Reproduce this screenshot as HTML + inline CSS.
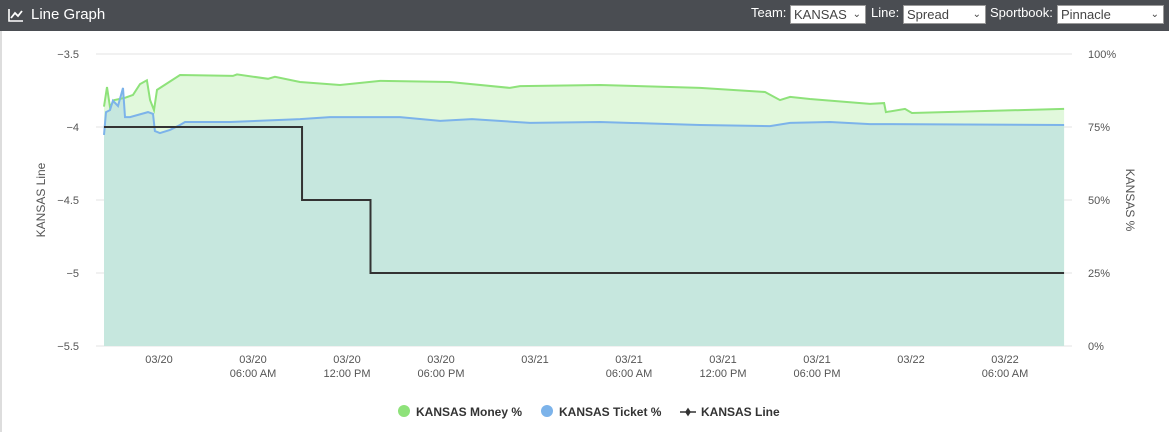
<!DOCTYPE html>
<html><head><meta charset="utf-8"><style>
body{margin:0;width:1169px;height:432px;background:#fff;font-family:"Liberation Sans",sans-serif;overflow:hidden}
#hdr{position:absolute;left:0;top:0;width:1169px;height:31px;background:#4a4d52;color:#fff}
#hdr .t{position:absolute;left:31px;top:6px;font-size:15px}
.ctl{position:absolute;top:5px;font-size:13px;color:#fff}
.sel{position:absolute;top:5px;height:17px;background:#fff;border:1px solid #999;color:#444;font-size:13px;line-height:17px;padding-left:3px;box-sizing:border-box;height:19px}
.sel span{position:absolute;right:4px;top:0;font-size:10px}
</style></head><body>
<div id="hdr">
<svg style="position:absolute;left:8px;top:8px" width="16" height="14"><path d="M1 1V13H15" stroke="#fff" stroke-width="1.6" fill="none"/><path d="M3 10L7 5L10 8L14 3" stroke="#fff" stroke-width="1.8" fill="none"/></svg>
<div class="t">Line Graph</div>
<div class="ctl" style="left:751px">Team:</div>
<div class="sel" style="left:790px;width:76px">KANSAS<span>&#8964;</span></div>
<div class="ctl" style="left:871px">Line:</div>
<div class="sel" style="left:903px;width:83px">Spread<span>&#8964;</span></div>
<div class="ctl" style="left:990px">Sportbook:</div>
<div class="sel" style="left:1057px;width:107px">Pinnacle<span>&#8964;</span></div>
</div>
<div style="position:absolute;left:0;top:31px;width:2px;height:401px;background:#ddd"></div>
<svg id="c" width="1169" height="432" style="position:absolute;left:0;top:0" font-family="Liberation Sans, sans-serif"></svg>
<script>
const lineTicks=[-3.5,-4,-4.5,-5,-5.5];
const pctTicks=[100,75,50,25,0];
const xTickHours=[0,6,12,18,24,30,36,42,48,54];
const xTickLabels=[["03/20"],["03/20","06:00 AM"],["03/20","12:00 PM"],["03/20","06:00 PM"],["03/21"],["03/21","06:00 AM"],["03/21","12:00 PM"],["03/21","06:00 PM"],["03/22"],["03/22","06:00 AM"]];
const moneyHours=[-3.51,-3.32,-3.13,-2.87,-2.17,-1.66,-1.21,-0.77,-0.57,-0.32,-0.13,1.34,4.72,4.98,6.96,7.40,9.0,11.55,14.11,18.57,22.4,23.04,28.15,34.53,38.68,39.64,40.28,41.55,45.38,46.28,46.4,47.62,48.06,57.77];
const moneyPct=[82,88.7,81.8,84.2,85,86,89.7,91,84.2,80.8,87.7,92.8,92.5,93,91.5,92.2,90.4,89.4,90.8,90.4,88.4,89,89.4,88.4,87,84.2,85.3,84.6,82.9,83.2,80.1,81.2,79.8,81.2];
const ticketHours=[-3.51,-3.38,-3.13,-2.94,-2.62,-2.30,-2.17,-1.85,-0.70,-0.38,-0.26,0.06,0.70,1.34,1.66,4.53,9.0,10.91,15.38,17.94,19.98,23.68,28.15,34.53,39.0,40.28,42.83,45.38,46.66,57.77];
const ticketPct=[72.3,80.1,80.8,84,82.2,88.4,78.4,78.4,80.1,79.5,73.6,72.9,74,75.7,76.7,76.7,77.7,78.4,78.4,77.1,77.7,76.4,76.7,75.7,75.3,76.4,76.7,76.0,76.0,75.7];
const lineHours=[-3.51,9.13,13.5,57.77];
const lineVals=[-4,-4.5,-5,-5];
const X0=104,X1=1064,Y0=54,Y1=346;
const xs=h=>159+h*94/6;
const yl=v=>Y0+(-3.5-v)/2*(Y1-Y0);
const yp=p=>Y1-p/100*(Y1-Y0);
const svg=document.getElementById('c');const NS='http://www.w3.org/2000/svg';
function el(t,a,txt){const e=document.createElementNS(NS,t);for(const k in a)e.setAttribute(k,a[k]);if(txt!==undefined)e.textContent=txt;svg.appendChild(e);return e;}
lineTicks.forEach((v,i)=>{const y=yl(v);
const g=el('line',{x1:X0-8,x2:X1+8,y1:y,y2:y,stroke:'#e3e3e3'});


const t=el('text',{x:79,y:y+4,'text-anchor':'end','font-size':11,fill:'#555'},String(v).replace('-','\u2212'));

});
pctTicks.forEach(p=>{const t=el('text',{x:1088,y:yp(p)+4,'font-size':11,fill:'#555'},p+'%');

});
xTickHours.forEach((h,i)=>{const x=xs(h);xTickLabels[i].forEach((s,j)=>{const t=el('text',{x:x,y:363+j*14,'text-anchor':'middle','font-size':11,fill:'#555'},s);

});});
function pts(hs,vs){return hs.map((h,i)=>xs(h).toFixed(1)+','+yp(vs[i]).toFixed(1)).join(' ');}
const mp=pts(moneyHours,moneyPct),tp=pts(ticketHours,ticketPct);
const ma=el('polygon',{points:mp+' '+xs(moneyHours[moneyHours.length-1])+','+Y1+' '+xs(moneyHours[0])+','+Y1,fill:'#e1f8dc'});


const ta=el('polygon',{points:tp+' '+xs(ticketHours[ticketHours.length-1])+','+Y1+' '+xs(ticketHours[0])+','+Y1,fill:'#c6e7de'});


const ml=el('polyline',{points:mp,fill:'none',stroke:'#8ee27a','stroke-width':2});


const tl=el('polyline',{points:tp,fill:'none',stroke:'#7cb3ea','stroke-width':2});


let lp=[];for(let i=0;i<lineHours.length-1;i++){lp.push(xs(lineHours[i])+','+yl(lineVals[i]));lp.push(xs(lineHours[i+1])+','+yl(lineVals[i]));}
const ll=el('polyline',{points:lp.join(' '),fill:'none',stroke:'#333','stroke-width':2});


const a1=el('text',{x:0,y:0,'font-size':12,fill:'#555','text-anchor':'middle',transform:'translate(45,200) rotate(-90)'},'KANSAS Line');


const a2=el('text',{x:0,y:0,'font-size':12,fill:'#555','text-anchor':'middle',transform:'translate(1126,200) rotate(90)'},'KANSAS %');


const lg=[[404,'#8ee27a','KANSAS Money %'],[547,'#7cb3ea','KANSAS Ticket %']];
lg.forEach(l=>{const c=el('circle',{cx:l[0],cy:411,r:6,fill:l[1]});


const t=el('text',{x:l[0]+12,y:416,'font-size':12,'font-weight':'bold',fill:'#333'},l[2]);

});
const lm=el('path',{d:'M680 412H696M686 412l2-3 2 3-2 3z',stroke:'#333','stroke-width':1.5,fill:'#333'});


const lt=el('text',{x:701,y:416,'font-size':12,'font-weight':'bold',fill:'#333'},'KANSAS Line');


</script>
</body></html>
